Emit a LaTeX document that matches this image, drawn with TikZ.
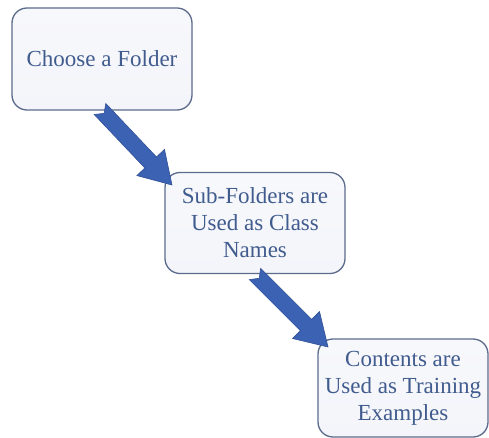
\documentclass[tikz,border=0pt]{standalone}
\usepackage{fontspec}
\setmainfont{Liberation Serif}
\usetikzlibrary{calc}
\definecolor{txtc}{RGB}{64,92,142}
\definecolor{bordc}{RGB}{92,108,140}
\definecolor{boxfill}{RGB}{244,245,250}
\definecolor{arrfill}{RGB}{60,98,180}
\definecolor{arredge}{RGB}{48,80,150}
\tikzset{
  stepbox/.style={draw=bordc, line width=1.3pt, rounded corners=15pt,
    top color=boxfill!70!white, bottom color=boxfill, text=txtc, align=center,
    font=\fontsize{23}{27}\selectfont, inner sep=0pt},
  blockarr/.style={fill=arrfill, draw=arredge, line width=0.6pt, line join=miter}
}
\newcommand{\blockarrow}[2]{%
  \coordinate (hb) at ($(#2)!31pt!(#1)$);
  \path[blockarr]
    ($(#1)!8pt!90:(#2)$) --
    ($(hb)!8pt!-90:(#1)$) --
    ($(hb)!19pt!-90:(#1)$) --
    (#2) --
    ($(hb)!19pt!90:(#1)$) --
    ($(hb)!8pt!90:(#1)$) --
    ($(#1)!8pt!-90:(#2)$) --
    ($(#1)!6pt!(#2)$) -- cycle;
}
\begin{document}
\begin{tikzpicture}[x=1pt,y=-1pt]
\useasboundingbox (0,0) rectangle (489,438);
\fill[white] (0,0) rectangle (489,438);
\node[stepbox, minimum width=180pt, minimum height=102pt] (b1) at (102,59) {Choose a Folder};
\node[stepbox, minimum width=180pt, minimum height=101pt] (b2) at (255,223) {Sub-Folders are\\Used as Class\\Names};
\node[stepbox, minimum width=170pt, minimum height=98pt] (b3) at (403,388) {Contents are\\Used as Training\\Examples};
\coordinate (t1) at (100,109);
\coordinate (p1) at (172,185);
\coordinate (t2) at (255,274);
\coordinate (p2) at (328,347);
\blockarrow{t1}{p1}
\blockarrow{t2}{p2}
\end{tikzpicture}
\end{document}
